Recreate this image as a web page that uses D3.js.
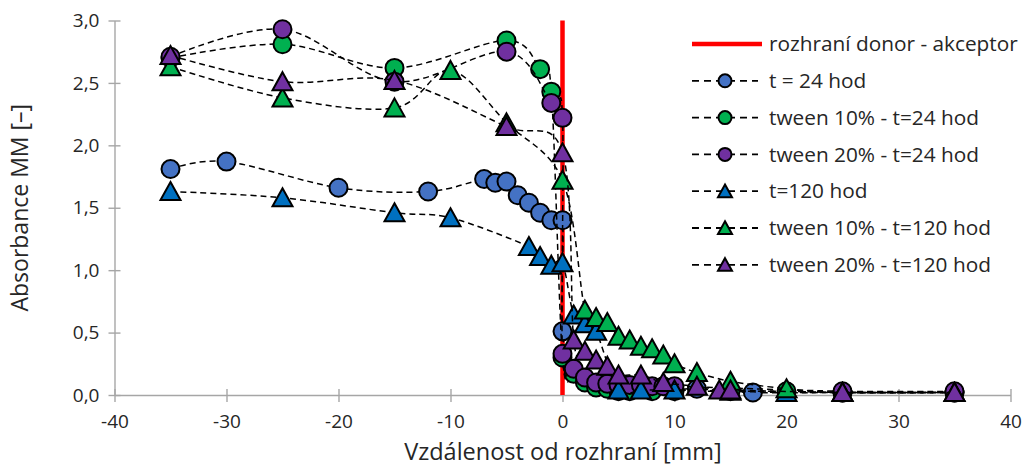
<!DOCTYPE html>
<html><head><meta charset="utf-8">
<script src="https://cdn.jsdelivr.net/npm/d3@7"></script>
<style>body{margin:0;background:#fff}svg{display:block}text{font-family:"Open Sans",sans-serif;fill:#262626}</style>
</head><body><svg id="c" width="1026" height="466"></svg>
<script>
const xTicks = [-40,-30,-20,-10,0,10,20,30,40];
const yTicks = [0,0.5,1,1.5,2,2.5,3];
const seriesNames = ["t = 24 hod","tween 10% - t=24 hod","tween 20% - t=24 hod","t=120 hod","tween 10% - t=120 hod","tween 20% - t=120 hod"];
const interfaceName = "rozhraní donor - akceptor";

const t24X = [-35,-30,-20,-12,-7,-6,-5,-4,-3,-2,-1,0,0,1,2,3,4,5,6,8,10,12,17,25,35];
const t24Y = [1.81,1.87,1.66,1.63,1.73,1.70,1.71,1.60,1.54,1.46,1.40,1.40,0.51,0.20,0.12,0.08,0.06,0.05,0.04,0.04,0.04,0.05,0.02,0.02,0.02];

const tw10t24X = [-35,-25,-15,-5,-2,-1,0,1,2,3,4,5,6,8,10,15,20,25,35];
const tw10t24Y = [2.70,2.81,2.62,2.84,2.61,2.43,0.30,0.17,0.10,0.06,0.05,0.03,0.03,0.03,0.03,0.03,0.03,0.02,0.02];

const tw20t24X = [-35,-25,-15,-5,-1,0,0,1,2,3,4,5,6,7,8,9,10,25,35];
const tw20t24Y = [2.71,2.93,2.51,2.75,2.34,2.22,0.33,0.21,0.14,0.10,0.09,0.08,0.08,0.08,0.07,0.07,0.07,0.03,0.03];

const t120X = [-35,-25,-15,-10,-3,-2,-1,0,1,2,3,5,7,10,15,20,25,35];
const t120Y = [1.63,1.58,1.46,1.42,1.19,1.11,1.04,1.06,0.64,0.57,0.51,0.04,0.04,0.04,0.03,0.02,0.02,0.02];

const tw10t120X = [-35,-25,-15,-10,-5,0,2,3,4,5,6,7,8,9,10,12,15,20,25,35];
const tw10t120Y = [2.63,2.38,2.30,2.60,2.18,1.72,0.68,0.62,0.58,0.47,0.44,0.39,0.37,0.32,0.25,0.18,0.11,0.05,0.02,0.02];

const tw20t120X = [-35,-25,-15,-5,0,1,2,3,4,5,7,9,12,14,15,25,35];
const tw20t120Y = [2.72,2.51,2.52,2.15,1.94,0.44,0.35,0.28,0.23,0.16,0.16,0.10,0.07,0.04,0.04,0.02,0.02];

const interfaceX = [0,0];
const interfaceY = [0,3];

const series = [
  {name:seriesNames[0], xs:t24X, ys:t24Y, shape:"circle", color:"#4472C4"},
  {name:seriesNames[1], xs:tw10t24X, ys:tw10t24Y, shape:"circle", color:"#00B050"},
  {name:seriesNames[2], xs:tw20t24X, ys:tw20t24Y, shape:"circle", color:"#7030A0"},
  {name:seriesNames[3], xs:t120X, ys:t120Y, shape:"triangle", color:"#0070C0"},
  {name:seriesNames[4], xs:tw10t120X, ys:tw10t120Y, shape:"triangle", color:"#00B050"},
  {name:seriesNames[5], xs:tw20t120X, ys:tw20t120Y, shape:"triangle", color:"#7030A0"}
];

const svg = d3.select("#c");
const x = d3.scaleLinear().domain([-40,40]).range([114.5,1010.5]);
const y = d3.scaleLinear().domain([0,3]).range([395,20.5]);
const axisColor = "#A6A6A6";
const fmt = v => d3.format(".1f")(v).replace(".", ",");

// axes
const xAxis = svg.append("g").attr("transform",`translate(0,${y(0)})`)
  .call(d3.axisBottom(x).tickValues(xTicks).tickSize(6).tickSizeOuter(0).tickFormat(d=>String(d)));
xAxis.select(".domain").attr("stroke",axisColor).attr("stroke-width",1.4);
xAxis.selectAll(".tick line").attr("stroke",axisColor).attr("stroke-width",1.4).attr("y1",-6).attr("y2",7);
xAxis.selectAll(".tick text").attr("y",20).attr("dy","0.71em").style("font-size","19px").style("font-family","'Open Sans',sans-serif").attr("fill","#262626");

const yAxis = svg.append("g").attr("transform",`translate(${x(-40)},0)`)
  .call(d3.axisLeft(y).tickValues(yTicks).tickSize(6).tickSizeOuter(0).tickFormat(fmt));
yAxis.select(".domain").attr("stroke",axisColor).attr("stroke-width",1.4);
yAxis.selectAll(".tick line").attr("stroke",axisColor).attr("stroke-width",1.4).attr("x1",6).attr("x2",-6);
yAxis.selectAll(".tick text").attr("x",-15).style("font-size","19px").style("font-family","'Open Sans',sans-serif").attr("fill","#262626");

// axis titles
svg.append("text").attr("x",(x(-40)+x(40))/2 + 0.5).attr("y",460).attr("text-anchor","middle")
  .style("font-size","23.5px").text("Vzdálenost od rozhraní [mm]");
svg.append("text").attr("transform",`translate(28,${(y(0)+y(3))/2}) rotate(-90)`).attr("text-anchor","middle")
  .style("font-size","23px").text("Absorbance MM [–]");

// interface line
const lineGen = d3.line().x(d=>x(d[0])).y(d=>y(d[1]));
svg.append("path").datum(interfaceX.map((v,i)=>[v,interfaceY[i]])).attr("d",lineGen)
  .attr("stroke","#FF0000").attr("stroke-width",4.5).attr("fill","none");

const smooth = d3.line().x(d=>x(d[0])).y(d=>y(d[1])).curve(d3.curveCardinal.tension(0));
const triPath = s => `M0,${-0.95*s}L${s},${0.85*s}L${-s},${0.85*s}Z`;

series.forEach(s=>{
  const pts = s.xs.map((v,i)=>[v,s.ys[i]]);
  const g = svg.append("g");
  g.append("path").datum(pts).attr("d",smooth).attr("fill","none")
    .attr("stroke","#000").attr("stroke-width",1.5).attr("stroke-dasharray","6,4");
  if(s.shape==="circle"){
    g.selectAll("circle").data(pts).join("circle").attr("cx",d=>x(d[0])).attr("cy",d=>y(d[1]))
      .attr("r",9).attr("fill",s.color).attr("stroke","#000").attr("stroke-width",2);
  } else {
    g.selectAll("path.m").data(pts).join("path").attr("class","m")
      .attr("transform",d=>`translate(${x(d[0])},${y(d[1])})`).attr("d",triPath(10))
      .attr("fill",s.color).attr("stroke","#000").attr("stroke-width",2).attr("stroke-linejoin","miter");
  }
});

// legend
const lg = svg.append("g");
const rowY = i => 44 + i*36.8;
lg.append("line").attr("x1",692).attr("x2",762).attr("y1",rowY(0)).attr("y2",rowY(0))
  .attr("stroke","#FF0000").attr("stroke-width",4.5);
lg.append("text").attr("x",769).attr("y",rowY(0)).attr("dy","0.35em").style("font-size","20.8px").text(interfaceName);
series.forEach((s,i)=>{
  const yy = rowY(i+1);
  lg.append("line").attr("x1",692).attr("x2",758).attr("y1",yy).attr("y2",yy)
    .attr("stroke","#000").attr("stroke-width",1.8).attr("stroke-dasharray","7,5");
  if(s.shape==="circle"){
    lg.append("circle").attr("cx",725).attr("cy",yy).attr("r",6.5).attr("fill",s.color).attr("stroke","#000").attr("stroke-width",2);
  } else {
    lg.append("path").attr("transform",`translate(725,${yy})`).attr("d",triPath(7)).attr("fill",s.color).attr("stroke","#000").attr("stroke-width",2);
  }
  lg.append("text").attr("x",769).attr("y",yy).attr("dy","0.35em").style("font-size","20.8px").text(s.name);
});
</script></body></html>
